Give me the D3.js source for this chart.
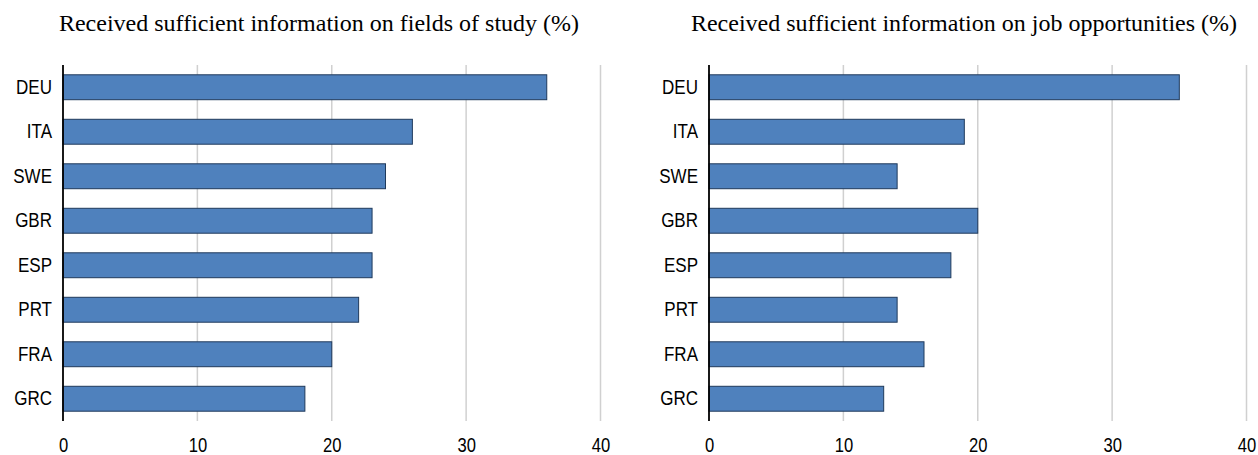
<!DOCTYPE html>
<html><head><meta charset="utf-8">
<script src="https://cdn.jsdelivr.net/npm/d3@7"></script>
<style>body{margin:0;background:#fff}</style>
</head><body>
<svg id="c" width="1258" height="455"></svg>
<script>
const countries = ["DEU","ITA","SWE","GBR","ESP","PRT","FRA","GRC"];
const fieldsOfStudy = [36,26,24,23,23,22,20,18];
const jobOpportunities = [35,19,14,20,18,14,16,13];
const tickValues = [0,10,20,30,40];
const titles = ["Received sufficient information on fields of study (%)","Received sufficient information on job opportunities (%)"];

const svg = d3.select("#c");
const panels = [
  {x0:63, x1:600.5, values:fieldsOfStudy, title:titles[0], tx:319},
  {x0:709, x1:1246.5, values:jobOpportunities, title:titles[1], tx:964}
];
const yTop = 65, yBot = 421;
const labelFont = "Liberation Sans, Arial, sans-serif";
const sx = 0.83;
panels.forEach(p => {
  const x = d3.scaleLinear().domain([0,40]).range([p.x0,p.x1]);
  const y = d3.scaleBand().domain(countries).range([yTop,yBot]).paddingInner(0.44).paddingOuter(0.22);
  const g = svg.append("g");
  g.append("text").attr("x",p.tx).attr("y",31).attr("text-anchor","middle")
    .attr("font-family","Liberation Serif, Times New Roman, serif").attr("font-size",24).attr("fill","#000").text(p.title);
  g.selectAll("line.grid").data(tickValues.slice(1)).join("line")
    .attr("x1",d=>x(d)).attr("x2",d=>x(d)).attr("y1",yTop).attr("y2",yBot)
    .attr("stroke","#d0d0d0").attr("stroke-width",1.5);
  g.selectAll("rect").data(countries).join("rect")
    .attr("x",x(0)).attr("y",d=>y(d)).attr("width",(d,i)=>x(p.values[i])-x(0)).attr("height",y.bandwidth())
    .attr("fill","#4f81bd").attr("stroke","#1f3a5c").attr("stroke-width",1);
  g.append("line").attr("x1",x(0)).attr("x2",x(0)).attr("y1",yTop).attr("y2",yBot).attr("stroke","#000").attr("stroke-width",1.8);
  const yAxis = d3.axisLeft(y).tickSize(0).tickPadding(11);
  const ya = g.append("g").attr("transform",`translate(${x(0)},0)`).call(yAxis);
  ya.select(".domain").remove();
  ya.selectAll("text").attr("font-family",labelFont).attr("font-size",20.5).attr("fill","#000")
    .attr("x",-11/sx).attr("transform",`scale(${sx},1)`);
  const xAxis = d3.axisBottom(x).tickValues(tickValues).tickSize(0).tickPadding(0);
  const xa = g.append("g").attr("transform",`translate(0,${yBot})`).call(xAxis);
  xa.select(".domain").remove();
  xa.selectAll("text").attr("font-family",labelFont).attr("font-size",20).attr("fill","#000")
    .attr("dy",null).attr("y",31).attr("transform",`scale(${sx},1)`);
});
</script>
</body></html>
